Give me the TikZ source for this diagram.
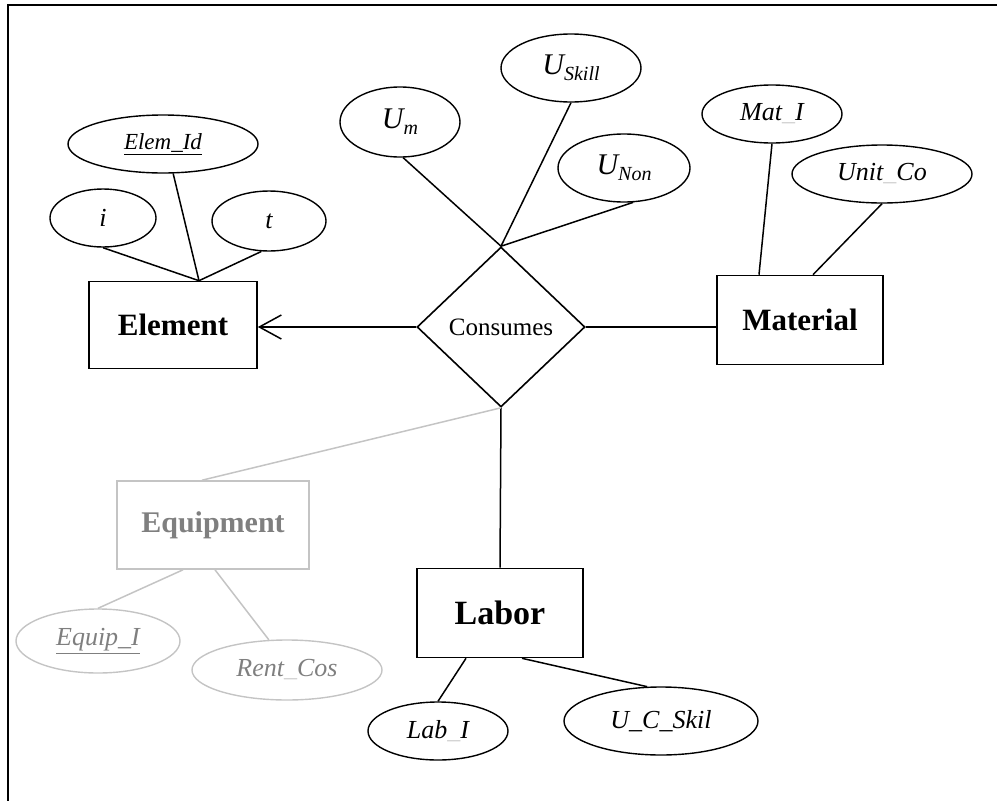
\documentclass[tikz,border=0pt]{standalone}
\usepackage{fontspec}
\setmainfont{Liberation Serif}
\usetikzlibrary{shapes.geometric,arrows.meta,calc}
\definecolor{lgray}{HTML}{C4C4C4}
\definecolor{tgray}{HTML}{7F7F7F}
\newcommand{\Usub}[1]{{\fontsize{30}{30}\selectfont\itshape U}\raisebox{-6pt}{\fontsize{20}{20}\selectfont\itshape #1}}
\newcommand{\fus}{{\color{black!18}\_}}
\begin{document}
\begin{tikzpicture}[x=1pt,y=-1pt, line width=1.5pt,
  ent/.style={draw, rectangle, inner sep=0pt, line width=1.6pt},
  attr/.style={draw, ellipse, inner sep=0pt, line width=1.4pt, font=\fontsize{26}{26}\selectfont\itshape},
  rel/.style={draw, diamond, inner sep=0pt, line width=1.6pt, font=\fontsize{25}{25}\selectfont},
  ghost/.style={draw=lgray, text=tgray},
  gconn/.style={draw=lgray, line width=1.5pt}]
\useasboundingbox (0,0) rectangle (997,801);
\draw[line width=2pt] (997,5) -- (8,5) -- (8,801);

% entities
\node[ent, minimum width=168pt, minimum height=87pt, font=\fontsize{31}{31}\selectfont\bfseries] (element) at (173,325) {Element};
\node[ent, minimum width=166pt, minimum height=89pt, font=\fontsize{31}{31}\selectfont\bfseries] (material) at (800,320) {Material};
\node[ent, minimum width=166pt, minimum height=89pt, font=\fontsize{34}{34}\selectfont\bfseries] (labor) at (500,613) {Labor};
\node[ent, ghost, minimum width=192pt, minimum height=88pt, font=\fontsize{30}{30}\selectfont\bfseries] (equipment) at (213,525) {Equipment};

% relationship
\node[rel, minimum width=168pt, minimum height=160pt] (consumes) at (501,327) {Consumes};

% attributes
\node[attr, minimum width=190pt, minimum height=58pt, font=\fontsize{23}{23}\selectfont\itshape] (elemid) at (163,144) {\underline{Elem\_Id}};
\node[attr, minimum width=106pt, minimum height=58pt] (ai) at (103,218) {i};
\node[attr, minimum width=114pt, minimum height=60pt] (at) at (269,221) {t};
\node[attr, minimum width=120pt, minimum height=70pt] (um) at (400,122) {\Usub{m}};
\node[attr, minimum width=140pt, minimum height=68pt] (uskill) at (571,68) {\Usub{Skill}};
\node[attr, minimum width=132pt, minimum height=68pt] (unon) at (624,168) {\Usub{Non}};
\node[attr, minimum width=140pt, minimum height=58pt] (mati) at (772,114) {Mat\fus I};
\node[attr, minimum width=180pt, minimum height=58pt] (unitco) at (882,174) {Unit\fus Co};
\node[attr, minimum width=140pt, minimum height=58pt] (labi) at (438,731) {Lab\fus I};
\node[attr, minimum width=194pt, minimum height=68pt] (ucskil) at (661,721) {U\_C\_Skil};
\node[attr, ghost, minimum width=164pt, minimum height=64pt] (equipi) at (98,641) {\underline{Equip\_I}};
\node[attr, ghost, minimum width=190pt, minimum height=60pt] (rentcos) at (287,670) {Rent\fus Cos};

% connectors
\coordinate (ej) at ($(element.north)+(26,0)$);
\draw (ai.south) -- (ej);
\draw (elemid.-71) -- (ej);
\draw (at.-104) -- (ej);
\draw (um.-85) -- (consumes.north);
\draw (uskill.south) -- (consumes.north);
\draw (unon.-75) -- (consumes.north);
\draw (mati.south) -- ($(material.north)+(-41,0)$);
\draw (unitco.south) -- ($(material.north)+(13,0)$);
\draw (consumes.east) -- (consumes.east -| material.west);
\draw[-{Straight Barb[length=22pt,width=24pt]}] (consumes.west) -- (consumes.west -| element.east);
\draw (consumes.south) -- (labor.north);
\draw (labi.north) -- ($(labor.south)+(-34,0)$);
\draw (ucskil.112) -- ($(labor.south)+(22,0)$);
\draw[gconn] (consumes.south) -- ($(equipment.north)+(-11,0)$);
\draw[gconn] ($(equipment.south)+(-30,0)$) -- (equipi.north);
\draw[gconn] ($(equipment.south)+(2,0)$) -- (rentcos.121);
\end{tikzpicture}
\end{document}
